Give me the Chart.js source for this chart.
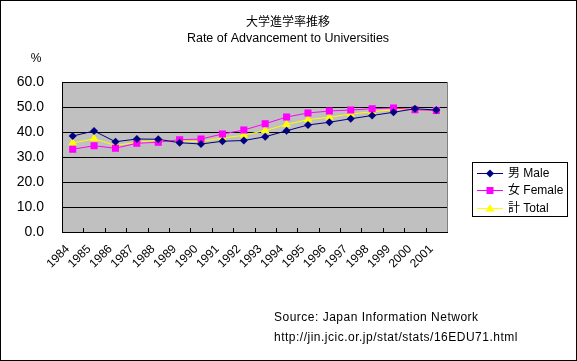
<!DOCTYPE html>
<html>
<head>
<meta charset="utf-8">
<script src="https://cdn.jsdelivr.net/npm/chart.js"></script>
<style>
  html, body { margin: 0; padding: 0; background: #fff; }
  canvas { display: block; }
</style>
</head>
<body>
<canvas id="meuGrafico" width="577" height="361"></canvas>
<script>
// Dados (%)
const anos = ['1984', '1985', '1986', '1987', '1988', '1989', '1990', '1991', '1992',
    '1993', '1994', '1995', '1996', '1997', '1998', '1999', '2000', '2001'];
const masculino = [38.4, 40.4, 36.1, 37.2, 37.1, 35.7, 35.2, 36.3, 36.6,
    38.1, 40.5, 42.8, 43.9, 45.3, 46.6, 47.9, 49.3, 48.8];
const feminino = [33.1, 34.5, 33.5, 35.5, 35.9, 36.9, 37.2, 39.2, 40.8,
    43.3, 46.0, 47.6, 48.4, 48.8, 49.3, 49.6, 48.9, 48.6];
const total = [35.6, 37.3, 34.6, 35.9, 36.7, 36.4, 36.2, 37.6, 38.7,
    40.6, 43.0, 45.0, 45.9, 47.2, 48.1, 48.9, 49.1, 48.5];
const nomesSeries = ['男 Male', '女 Female', '計 Total'];

const fonteLatina = '"Liberation Sans", "Noto Sans CJK JP", sans-serif';

// Desenha um marcador simples para a legenda
function desenharMarcador(ctx, estilo, x, y, cor) {
    ctx.fillStyle = cor;
    ctx.beginPath();
    if (estilo === 'rectRot') {
        ctx.moveTo(x, y - 4); ctx.lineTo(x + 4, y); ctx.lineTo(x, y + 4); ctx.lineTo(x - 4, y);
    } else if (estilo === 'rect') {
        ctx.rect(x - 3.5, y - 3.5, 7, 7);
    } else {
        ctx.moveTo(x, y - 4.5); ctx.lineTo(x + 4.5, y + 3); ctx.lineTo(x - 4.5, y + 3);
    }
    ctx.closePath();
    ctx.fill();
}

// Plugin com o fundo, títulos, legenda e fonte
const pluginDecoracao = {
    id: 'decoracao',
    beforeDraw(chart) {
        const { ctx, chartArea: a } = chart;
        ctx.save();
        ctx.fillStyle = '#fff';
        ctx.fillRect(0, 0, chart.width, chart.height);
        ctx.fillStyle = '#c0c0c0';
        ctx.fillRect(a.left, a.top, a.right - a.left, a.bottom - a.top);
        ctx.restore();
    },
    afterDatasetsDraw(chart) {
        const { ctx, chartArea: a } = chart;
        ctx.save();
        // borda direita cinza
        ctx.strokeStyle = '#808080';
        ctx.lineWidth = 1;
        ctx.beginPath();
        ctx.moveTo(a.right + 0.5, a.top);
        ctx.lineTo(a.right + 0.5, a.bottom);
        ctx.stroke();
        // marcas internas do eixo x
        const largura = (a.right - a.left) / anos.length;
        ctx.strokeStyle = '#000';
        ctx.beginPath();
        for (let i = 1; i < anos.length; i++) {
            const x = Math.round(a.left + i * largura) + 0.5;
            ctx.moveTo(x, a.bottom);
            ctx.lineTo(x, a.bottom - 4);
        }
        ctx.stroke();
        ctx.restore();
    },
    afterDraw(chart) {
        const ctx = chart.ctx;
        ctx.save();
        ctx.fillStyle = '#000';
        ctx.textBaseline = 'middle';
        ctx.textAlign = 'center';
        ctx.font = '12px "Noto Sans CJK JP", sans-serif';
        ctx.fillText('大学進学率推移', 288, 21);
        ctx.font = '12.5px ' + fonteLatina;
        ctx.fillText('Rate of Advancement to Universities', 288, 39);
        ctx.font = '12px ' + fonteLatina;
        ctx.fillText('%', 36, 59);

        // legenda
        ctx.strokeStyle = '#000';
        ctx.lineWidth = 1;
        ctx.strokeRect(472.5, 162.5, 95, 54);
        const posY = [173, 190, 208];
        ctx.textAlign = 'left';
        ctx.font = '12px ' + fonteLatina;
        chart.data.datasets.forEach((ds, i) => {
            const y = posY[i];
            ctx.strokeStyle = ds.borderColor;
            ctx.beginPath();
            ctx.moveTo(477, y + 0.5);
            ctx.lineTo(503, y + 0.5);
            ctx.stroke();
            desenharMarcador(ctx, ds.pointStyle, 490, y + 0.5, ds.borderColor);
            ctx.fillStyle = '#000';
            ctx.fillText(ds.label, 508, y + 1);
        });

        // fonte dos dados
        ctx.font = '12px ' + fonteLatina;
        ctx.letterSpacing = '0.5px';
        ctx.fillText('Source: Japan Information Network', 274, 318);
        ctx.fillText('http://jin.jcic.or.jp/stat/stats/16EDU71.html', 274, 338);
        ctx.letterSpacing = '0px';

        // moldura externa
        ctx.strokeStyle = '#000';
        ctx.strokeRect(0.5, 0.5, chart.width - 1, chart.height - 1);
        ctx.restore();
    }
};

const ctx = document.getElementById('meuGrafico').getContext('2d');

window.meuGrafico = new Chart(ctx, {
    type: 'line',
    data: {
        labels: anos,
        datasets: [{
            label: nomesSeries[0],
            data: masculino,
            borderColor: '#000080',
            backgroundColor: '#000080',
            pointStyle: 'rectRot',
            pointRadius: 4
        }, {
            label: nomesSeries[1],
            data: feminino,
            borderColor: '#ff00ff',
            backgroundColor: '#ff00ff',
            pointStyle: 'rect',
            pointRadius: 5
        }, {
            label: nomesSeries[2],
            data: total,
            borderColor: '#ffff00',
            backgroundColor: '#ffff00',
            pointStyle: 'triangle',
            pointRadius: 5
        }]
    },
    options: {
        responsive: false,
        animation: false,
        devicePixelRatio: 1,
        elements: {
            line: { borderWidth: 1, tension: 0 },
            point: { borderWidth: 0, hoverRadius: 5 }
        },
        layout: {
            padding: { left: 0, top: 82, right: 130, bottom: 0 }
        },
        plugins: {
            legend: { display: false },
            title: { display: false },
            tooltip: { enabled: false }
        },
        scales: {
            x: {
                offset: true,
                grid: { display: false, drawTicks: false },
                border: { display: true, color: '#000' },
                ticks: {
                    autoSkip: false,
                    minRotation: 45,
                    maxRotation: 45,
                    padding: 10,
                    labelOffset: -5,
                    color: '#000',
                    font: { family: fonteLatina, size: 12 }
                },
                afterFit: (escala) => { escala.height = 129; }
            },
            y: {
                min: 0,
                max: 60,
                grid: { color: '#000', drawTicks: false },
                border: { display: true, color: '#000' },
                ticks: {
                    stepSize: 10,
                    padding: 18,
                    color: '#000',
                    font: { family: fonteLatina, size: 14 },
                    callback: (valor) => valor.toFixed(1)
                },
                afterFit: (escala) => { escala.width = 62; }
            }
        }
    },
    plugins: [pluginDecoracao]
});
</script>
</body>
</html>
